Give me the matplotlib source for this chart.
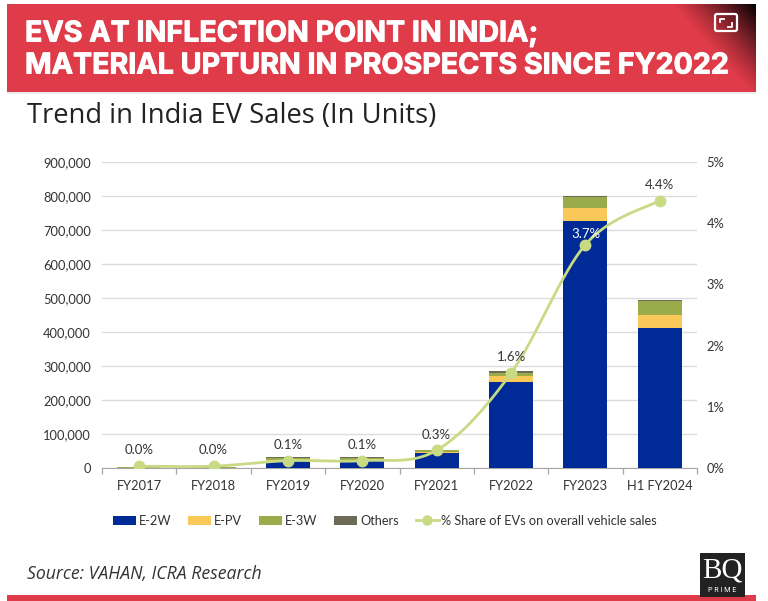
import numpy as np
import matplotlib
matplotlib.use("Agg")
import matplotlib.pyplot as plt
import matplotlib.patheffects as pe
from matplotlib.patches import Patch, Rectangle, FancyBboxPatch
from matplotlib.lines import Line2D

W, H = 768, 601

categories = ["FY2017", "FY2018", "FY2019", "FY2020", "FY2021", "FY2022", "FY2023", "H1 FY2024"]
e2w = [500, 300, 21000, 20000, 44000, 252000, 726000, 412000]
epv = [500, 300, 1500, 1500, 4500, 18000, 40000, 38000]
e3w = [1500, 1000, 7000, 7000, 3500, 10000, 31000, 41000]
others = [1500, 1400, 3000, 3000, 2000, 4000, 4000, 3000]
share = [0.03, 0.03, 0.12, 0.12, 0.29, 1.55, 3.65, 4.37]
share_labels = ["0.0%", "0.0%", "0.1%", "0.1%", "0.3%", "1.6%", "3.7%", "4.4%"]
series_names = ["E-2W", "E-PV", "E-3W", "Others"]
line_name = "% Share of EVs on overall vehicle sales"
left_ticks = [0, 100000, 200000, 300000, 400000, 500000, 600000, 700000, 800000, 900000]
right_ticks = [0, 1, 2, 3, 4, 5]

colors = ["#002b96", "#fac858", "#9aab4a", "#6d6a55"]
line_color = "#c9da85"
text_color = "#333333"
red = "#df3b48"

plt.rcParams["font.family"] = ["Lato", "DejaVu Sans"]
fig = plt.figure(figsize=(W / 100, H / 100), dpi=100, facecolor="white")


def rect(x0, y0, x1, y1):
    return [x0 / W, 1 - y1 / H, (x1 - x0) / W, (y1 - y0) / H]


# decoration layer in pixel coordinates
bg = fig.add_axes([0, 0, 1, 1], zorder=0)
bg.set_xlim(0, W)
bg.set_ylim(H, 0)
bg.axis("off")
bg.add_patch(Rectangle((7, 4), 749, 88, fc=red, ec="none"))
yy, xx = np.mgrid[4:92, 7:756]
d = (756 - xx) / 85 + (yy - 4) / 95
shade = np.zeros(xx.shape + (4,))
shade[..., 3] = np.clip(1 - d, 0, 1) ** 1.2
bg.imshow(shade, extent=(7, 756, 92, 4), aspect="auto", interpolation="bilinear", zorder=2)
bg.set_xlim(0, W)
bg.set_ylim(H, 0)
bg.add_patch(Rectangle((7, 595), 749, 6, fc=red, ec="none"))
bg.add_patch(Rectangle((7, 92), 749, 1.5, fc="#eeeeee", ec="none"))
# expand icon
bg.add_patch(FancyBboxPatch((715, 14), 22, 17, boxstyle="round,pad=0,rounding_size=2",
                            fc="none", ec="white", lw=1.6, zorder=3))
for pts in ([(720, 22), (720, 18.5), (724, 18.5)], [(732, 23), (732, 26.5), (728, 26.5)]):
    bg.plot(*zip(*pts), color="white", lw=1.3, zorder=3)
stroke = [pe.withStroke(linewidth=0.7, foreground="white")]
bg.text(25, 34, "EVS AT INFLECTION POINT IN INDIA;", color="white", fontsize=20.6,
        family="Inter", weight="bold", va="center", ha="left", zorder=4, path_effects=stroke)
bg.text(25, 66, "MATERIAL UPTURN IN PROSPECTS SINCE FY2022", color="white", fontsize=20.6,
        family="Inter", weight="bold", va="center", ha="left", zorder=4, path_effects=stroke)
bg.text(27, 116, "Trend in India EV Sales (In Units)", color="#222222", fontsize=19.7,
        family="Open Sans", va="center", ha="left")
bg.text(27, 574, "Source: VAHAN, ICRA Research", color="#333333", fontsize=12.7,
        family="Open Sans", style="italic", va="center", ha="left")
# logo
bg.add_patch(Rectangle((700, 553), 45, 44, fc="#222222", ec="none", zorder=5))
bg.text(722.5, 570, "BQ", color="white", fontsize=21, family="Liberation Serif",
        ha="center", va="center", zorder=6)
bg.text(722.5, 591, "P R I M E", color="white", fontsize=5.2, family="Roboto",
        ha="center", va="center", zorder=6)

# chart
ax = fig.add_axes(rect(102, 162, 697, 468), zorder=2)
ax.patch.set_alpha(0)
x = np.arange(len(categories))
bottom = np.zeros(len(categories))
for vals, c, n in zip([e2w, epv, e3w, others], colors, series_names):
    ax.bar(x, vals, width=0.59, bottom=bottom, color=c, label=n, zorder=3)
    bottom += np.array(vals)
ax.set_xlim(-0.5, len(categories) - 0.5)
ax.set_ylim(0, 900000)
ax.set_yticks(left_ticks)
ax.set_yticklabels([f"{v:,}" for v in left_ticks])
ax.set_xticks(x)
ax.set_xticklabels(categories)
ax.set_xticks(np.arange(-0.5, len(categories)), minor=True)
ax.tick_params(axis="x", which="major", length=0, labelsize=9.3, labelcolor=text_color, pad=9)
ax.tick_params(axis="x", which="minor", length=4, color="#a6a6a6", width=0.9)
ax.tick_params(axis="y", length=0, labelsize=9.3, labelcolor=text_color, pad=8)
ax.grid(axis="y", color="#dcdcdc", lw=1, zorder=0)
ax.set_axisbelow(True)
for s in ("top", "left", "right"):
    ax.spines[s].set_visible(False)
ax.spines["bottom"].set_color("#a6a6a6")

ax2 = ax.twinx()
ax2.set_ylim(0, 5)
ax2.set_yticks(right_ticks)
ax2.set_yticklabels([f"{v}%" for v in right_ticks])
ax2.tick_params(axis="y", length=0, labelsize=9.3, labelcolor=text_color, pad=7)
for s in ax2.spines.values():
    s.set_visible(False)

# smooth (Excel-style Catmull-Rom) line through the data points
sv = np.array(share)
t = np.linspace(0, 1, 40)[:, None]
P = np.column_stack([x, sv])
P = np.vstack([P[0], P, P[-1]])
curve = []
for i in range(1, len(P) - 2):
    p0, p1, p2, p3 = P[i - 1], P[i], P[i + 1], P[i + 2]
    c1, c2 = p1 + (p2 - p0) / 6, p2 - (p3 - p1) / 6
    curve.append((1 - t) ** 3 * p1 + 3 * (1 - t) ** 2 * t * c1 + 3 * (1 - t) * t ** 2 * c2 + t ** 3 * p2)
curve = np.vstack(curve)
ax2.plot(curve[:, 0], curve[:, 1], color=line_color, lw=2, zorder=5, solid_capstyle="round")
ax2.plot(x, sv, ls="none", marker="o", ms=7.5, color=line_color, zorder=6)
for xi, v, lab in zip(x, sv, share_labels):
    is_white = lab == "3.7%"
    ax2.annotate(lab, (xi, v), xytext=(0, 3 if is_white else 7), textcoords="offset points",
                 ha="center", va="bottom", fontsize=9.5,
                 color="white" if is_white else text_color, zorder=7)

handles = [Patch(fc=c, ec="none", label=n) for c, n in zip(colors, series_names)]
handles.append(Line2D([0], [0], color=line_color, lw=2, marker="o", ms=6.5, label=line_name))
fig.legend(handles=handles, ncol=5, loc="center", bbox_to_anchor=(385 / W, 1 - 521 / H),
           frameon=False, fontsize=9.2, labelcolor=text_color, handlelength=1.8, handleheight=0.78,
           handletextpad=0.2, columnspacing=1.35, borderpad=0)

fig.savefig("out.png", dpi=100, facecolor="white")
